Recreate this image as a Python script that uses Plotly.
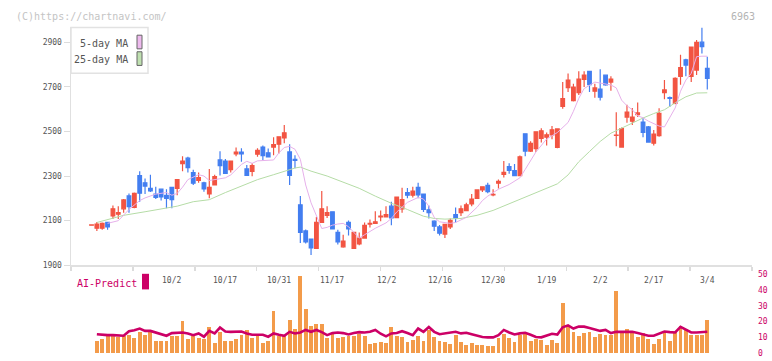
import plotly.graph_objects as go

# ---------------- data ----------------
sep_days = [9, 10, 11, 12, 16, 17, 18, 19, 22, 24, 25, 26, 29, 30]
oct_days = [1, 2, 3, 6, 7, 8, 9, 10, 14, 15, 16, 17, 20, 21, 22, 23, 24, 27, 28, 29, 30, 31]
nov_days = [4, 5, 6, 7, 10, 11, 12, 13, 14, 17, 18, 19, 20, 21, 25, 26, 27, 28]
dec_days = [1, 2, 3, 4, 5, 8, 9, 10, 11, 12, 15, 16, 17, 18, 19, 22, 23, 24, 25, 26, 29, 30]
jan_days = [5, 6, 7, 8, 9, 13, 14, 15, 16, 19, 20, 21, 22, 23, 26, 27, 28, 29, 30]
feb_days = [2, 3, 4, 5, 6, 9, 10, 12, 13, 16, 17, 18, 19, 20, 24, 25, 26, 27]
mar_days = [2, 3, 4]

dates = ([f"2025-09-{d:02d}" for d in sep_days] + [f"2025-10-{d:02d}" for d in oct_days]
         + [f"2025-11-{d:02d}" for d in nov_days] + [f"2025-12-{d:02d}" for d in dec_days]
         + [f"2026-01-{d:02d}" for d in jan_days] + [f"2026-02-{d:02d}" for d in feb_days]
         + [f"2026-03-{d:02d}" for d in mar_days])

label_dates = ["2025-10-02", "2025-10-17", "2025-10-31", "2025-11-17", "2025-12-02",
               "2025-12-16", "2025-12-30", "2026-01-19", "2026-02-02", "2026-02-17", "2026-03-04"]

open_ = [2080, 2066, 2066, 2092, 2121, 2129, 2153, 2211, 2160, 2302,
         2270, 2245, 2219, 2241, 2213, 2249, 2245, 2356, 2380, 2315,
         2281, 2270, 2220, 2260, 2372, 2367, 2329, 2399, 2407, 2332,
         2321, 2398, 2430, 2404, 2430, 2443, 2471, 2408, 2375, 2171,
         2054, 2018, 1976, 2092, 2124, 2140, 2048, 1983, 2092, 1976,
         1996, 2022, 2085, 2088, 2117, 2117, 2165, 2114, 2153, 2226,
         2214, 2249, 2219, 2149, 2098, 2072, 2040, 2072, 2127, 2136,
         2145, 2175, 2200, 2238, 2258, 2215, 2268, 2307, 2342, 2324,
         2302, 2489, 2412, 2423, 2469, 2474, 2484, 2428, 2612, 2696,
         2638, 2674, 2733, 2769, 2680, 2690, 2752, 2721, 2482, 2430,
         2564, 2546, 2575, 2542, 2520, 2447, 2481, 2674, 2652, 2626,
         2747, 2821, 2747, 2775, 2900, 2782]
high = [2084, 2094, 2092, 2095, 2168, 2165, 2197, 2222, 2226, 2321,
        2289, 2306, 2252, 2241, 2241, 2249, 2284, 2389, 2386, 2328,
        2316, 2274, 2332, 2306, 2411, 2376, 2367, 2428, 2425, 2350,
        2357, 2425, 2437, 2423, 2474, 2476, 2529, 2443, 2393, 2211,
        2060, 2018, 2117, 2233, 2165, 2140, 2059, 2037, 2101, 2048,
        2047, 2092, 2105, 2142, 2146, 2165, 2185, 2206, 2248, 2246,
        2252, 2270, 2219, 2168, 2102, 2081, 2083, 2110, 2159, 2168,
        2180, 2219, 2238, 2252, 2270, 2241, 2284, 2367, 2357, 2354,
        2392, 2489, 2456, 2498, 2514, 2495, 2524, 2514, 2721, 2760,
        2714, 2769, 2769, 2769, 2714, 2778, 2752, 2747, 2586, 2517,
        2619, 2605, 2629, 2561, 2524, 2506, 2604, 2730, 2656, 2743,
        2843, 2826, 2878, 2909, 2966, 2834]
low = [2077, 2054, 2059, 2059, 2107, 2107, 2136, 2136, 2156, 2185,
       2219, 2229, 2197, 2190, 2156, 2156, 2214, 2321, 2316, 2260,
       2270, 2230, 2201, 2260, 2302, 2312, 2316, 2389, 2364, 2303,
       2299, 2386, 2372, 2386, 2393, 2401, 2447, 2260, 2335, 2000,
       1998, 1946, 1976, 2092, 2112, 2060, 1993, 1979, 2034, 1976,
       1990, 2019, 2069, 2088, 2098, 2114, 2080, 2114, 2136, 2200,
       2204, 2200, 2139, 2110, 2054, 2034, 2022, 2063, 2092, 2121,
       2142, 2165, 2197, 2229, 2223, 2209, 2244, 2293, 2310, 2299,
       2299, 2389, 2408, 2408, 2450, 2437, 2465, 2425, 2602, 2677,
       2634, 2663, 2699, 2677, 2651, 2638, 2704, 2682, 2433, 2430,
       2539, 2529, 2564, 2474, 2452, 2437, 2476, 2644, 2609, 2622,
       2709, 2747, 2721, 2753, 2849, 2688]
close = [2081, 2085, 2088, 2072, 2153, 2136, 2193, 2163, 2223, 2223,
         2255, 2233, 2204, 2207, 2200, 2194, 2284, 2367, 2338, 2268,
         2293, 2242, 2249, 2297, 2347, 2312, 2367, 2407, 2399, 2303,
         2347, 2415, 2391, 2386, 2441, 2476, 2494, 2303, 2370, 2048,
         2005, 1978, 2092, 2153, 2136, 2063, 2005, 2008, 2063, 2048,
         2022, 2079, 2088, 2095, 2121, 2127, 2113, 2206, 2194, 2214,
         2232, 2216, 2150, 2136, 2075, 2044, 2083, 2102, 2112, 2153,
         2171, 2197, 2238, 2252, 2230, 2218, 2276, 2316, 2325, 2302,
         2386, 2412, 2447, 2498, 2503, 2485, 2507, 2511, 2647, 2730,
         2699, 2734, 2752, 2709, 2695, 2653, 2708, 2734, 2484, 2513,
         2586, 2564, 2583, 2495, 2452, 2488, 2581, 2686, 2648, 2738,
         2786, 2797, 2878, 2899, 2880, 2738]

# moving averages (trading-day number, value)
ma5_day = [3, 5, 6, 7, 9, 10, 12, 14, 15, 16, 17, 18, 20, 21, 22, 23, 25, 26, 28, 29,
           30, 31, 34, 35, 36, 37, 38, 39, 40, 41, 42, 43, 44, 45, 46, 47, 48, 50, 51, 53,
           55, 56, 57, 59, 61, 62, 63, 64, 65, 66, 67, 68, 70, 72, 73, 74, 76, 78, 80, 81,
           83, 85, 87, 89, 90, 91, 92, 94, 95, 97, 98, 99, 100, 101, 102, 103, 104, 106, 107, 108,
           109, 110, 111, 112, 113, 114, 115]
ma5_value = [2088, 2100, 2125, 2150, 2190, 2202, 2219, 2226, 2214, 2222, 2250, 2284, 2306, 2300, 2280, 2283, 2292, 2305, 2352, 2366,
             2357, 2368, 2372, 2404, 2428, 2433, 2420, 2375, 2260, 2180, 2120, 2065, 2070, 2080, 2085, 2088, 2073, 2022, 2037, 2066,
             2090, 2110, 2139, 2182, 2204, 2197, 2165, 2115, 2095, 2092, 2088, 2092, 2115, 2160, 2190, 2210, 2241, 2262, 2292, 2330,
             2408, 2466, 2495, 2540, 2590, 2648, 2692, 2721, 2716, 2708, 2695, 2640, 2615, 2597, 2570, 2561, 2546, 2524, 2520, 2561,
             2605, 2680, 2730, 2760, 2835, 2837, 2837]

ma25_day = [1, 3, 6, 10, 13, 16, 19, 22, 25, 28, 31, 34, 36, 38, 39, 41, 44, 47, 50, 53,
            56, 59, 62, 64, 66, 69, 72, 75, 78, 81, 84, 87, 89, 91, 93, 95, 97, 99, 101, 103,
            105, 107, 109, 111, 113, 114, 115]
ma25_value = [2092, 2105, 2124, 2140, 2153, 2165, 2185, 2194, 2226, 2255, 2284, 2306, 2322, 2336, 2340, 2322, 2300, 2272, 2245, 2210,
              2178, 2150, 2120, 2110, 2107, 2110, 2124, 2146, 2175, 2204, 2233, 2265, 2305, 2364, 2410, 2455, 2492, 2515, 2539, 2560,
              2580, 2597, 2628, 2655, 2672, 2673, 2673]

volume = [None, 7.9, 9.1, 10.6, 11.0, 10.2, 10.6, 11.8, 9.8, 13.5,
          11.6, 13.1, 7.9, 7.9, 7.9, 11.0, 11.0, 20.3, 9.1, 11.0,
          9.8, 9.1, 16.6, 6.7, 13.5, 7.9, 7.9, 9.1, 11.6, 14.7,
          9.8, 11.0, 6.7, 7.9, 26.6, 11.0, 11.6, 21.0, 15.6, 48.9,
          28.0, 17.2, 18.5, 18.5, 9.8, 12.9, 9.8, 10.4, 11.0, 11.0,
          12.3, 11.0, 6.0, 6.7, 7.3, 6.7, 16.6, 11.0, 10.4, 7.3,
          8.5, 11.0, 7.9, 14.7, 10.4, 7.9, 7.3, 5.8, 11.6, 7.3,
          5.4, 6.4, 5.4, 5.4, 4.4, 4.8, 9.3, 12.3, 9.8, 7.3,
          11.6, 13.5, 7.9, 9.1, 8.5, 5.4, 8.5, 6.7, 31.5, 16.6,
          13.5, 11.0, 12.9, 13.5, 10.4, 12.3, 11.6, 11.6, 39.6, 13.5,
          15.4, 13.5, 10.4, 12.9, 9.1, 5.8, 9.1, 12.9, 7.9, 13.7,
          17.2, 15.6, 11.6, 11.6, 11.6, 21.0]

ai_predict = [None, 12.0, 11.6, 11.4, 11.4, 11.0, 11.0, 13.9, 14.5, 15.6,
              14.1, 14.1, 13.1, 12.0, 11.0, 12.7, 13.1, 13.1, 12.5, 11.4,
              12.5, 10.4, 14.1, 12.5, 16.2, 13.7, 13.5, 13.5, 13.7, 12.5,
              11.6, 11.6, 11.6, 10.4, 12.5, 11.6, 11.0, 13.5, 12.5, 13.1,
              14.7, 13.5, 14.7, 13.3, 11.4, 12.7, 13.1, 12.7, 11.8, 12.7,
              13.3, 13.1, 13.5, 14.7, 12.3, 10.6, 12.5, 12.7, 13.9, 12.7,
              11.4, 15.6, 13.5, 16.6, 13.5, 12.0, 12.5, 12.9, 13.5, 12.5,
              12.9, 12.0, 11.0, 10.2, 10.0, 10.0, 11.4, 14.7, 13.1, 11.8,
              12.5, 12.9, 11.6, 10.2, 10.0, 11.2, 12.3, 11.8, 16.4, 17.6,
              15.6, 16.8, 16.8, 16.0, 14.9, 14.1, 14.7, 12.7, 13.5, 13.5,
              13.5, 13.5, 12.7, 11.6, 11.0, 11.0, 12.3, 13.7, 13.3, 13.1,
              16.6, 14.7, 13.1, 13.1, 13.1, 13.5]

price_ticks = [1900, 2100, 2300, 2500, 2700, 2900]
ai_ticks = [0, 10, 20, 30, 40, 50]

# ---------------- figure ----------------
W, H = 772, 361
MONO = "DejaVu Sans Mono"
RED = "#f25442"
BLUE = "#437ef0"
MAGENTA = "#cc0066"
ORANGE = "#f39b4a"

day = list(range(len(dates)))
X0, X1 = -3.83, 123.35


def px(x):
    return x / W


def py(y):
    return 1 - y / H


fig = go.Figure()

fig.add_trace(go.Scatter(x=ma25_day, y=ma25_value, mode="lines",
                         line=dict(color="#b5dca6", width=1), hoverinfo="skip",
                         showlegend=False, xaxis="x", yaxis="y"))
fig.add_trace(go.Scatter(x=ma5_day, y=ma5_value, mode="lines",
                         line=dict(color="#e6b0ea", width=1), hoverinfo="skip",
                         showlegend=False, xaxis="x", yaxis="y"))
fig.add_trace(go.Candlestick(
    x=day, open=open_, high=high, low=low, close=close,
    increasing=dict(line=dict(color=RED, width=1.2), fillcolor=RED),
    decreasing=dict(line=dict(color=BLUE, width=1.2), fillcolor=BLUE),
    whiskerwidth=0, hoverinfo="skip", showlegend=False, xaxis="x", yaxis="y"))

fig.add_trace(go.Bar(x=day, y=volume, marker=dict(color=ORANGE, line=dict(width=0)),
                     width=0.72, hoverinfo="skip", showlegend=False,
                     xaxis="x2", yaxis="y2"))
fig.add_trace(go.Scatter(x=day, y=ai_predict, mode="lines",
                         line=dict(color=MAGENTA, width=2.6), hoverinfo="skip",
                         showlegend=False, xaxis="x2", yaxis="y3"))

annotations = [
    dict(text="(C)https://chartnavi.com/", x=px(14), y=py(12.5), xref="paper", yref="paper",
         xanchor="left", yanchor="middle", showarrow=False,
         font=dict(family=MONO, size=10, color="#c4c4c4")),
    dict(text="6963", x=px(757), y=py(12.5), xref="paper", yref="paper",
         xanchor="right", yanchor="middle", showarrow=False,
         font=dict(family=MONO, size=10, color="#b4b4b4")),
    dict(text="5-day MA", x=px(130), y=py(40), xref="paper", yref="paper",
         xanchor="right", yanchor="middle", showarrow=False,
         font=dict(family=MONO, size=10, color="#555555")),
    dict(text="25-day MA", x=px(130), y=py(57), xref="paper", yref="paper",
         xanchor="right", yanchor="middle", showarrow=False,
         font=dict(family=MONO, size=10, color="#555555")),
    dict(text="AI-Predict", x=px(75), y=py(287), xref="paper", yref="paper",
         xanchor="left", yanchor="middle", showarrow=False,
         font=dict(family=MONO, size=10, color=MAGENTA)),
]
for d in label_dates:
    m, dd = int(d[5:7]), int(d[8:10])
    annotations.append(dict(text=f"{m}/{dd}", x=dates.index(d), y=py(283.5), xref="x", yref="paper",
                            xanchor="center", yanchor="middle", showarrow=False,
                            font=dict(family=MONO, size=8, color="#555555")))

shapes = [
    dict(type="rect", xref="paper", yref="paper", x0=px(71), x1=px(148), y0=py(71), y1=py(24),
         line=dict(color="#e2e2e2", width=1.5), fillcolor="white", layer="above"),
    dict(type="rect", xref="paper", yref="paper", x0=px(137), x1=px(142), y0=py(46), y1=py(32),
         line=dict(color="#666666", width=1), fillcolor="#eebaee", layer="above"),
    dict(type="rect", xref="paper", yref="paper", x0=px(137), x1=px(142), y0=py(63), y1=py(49),
         line=dict(color="#666666", width=1), fillcolor="#bfe0b0", layer="above"),
    dict(type="rect", xref="paper", yref="paper", x0=px(142), x1=px(149), y0=py(292.7), y1=py(276.7),
         line=dict(width=0), fillcolor=MAGENTA, layer="above"),
]

fig.update_layout(
    width=W, height=H, autosize=False,
    margin=dict(l=0, r=0, t=0, b=0),
    paper_bgcolor="white", plot_bgcolor="white",
    boxgap=0.2, boxgroupgap=0.15,
    bargap=0,
    xaxis=dict(domain=[px(71), px(752)], range=[X0, X1], anchor="y",
               showline=True, linecolor="#e0e0e0", linewidth=1.5,
               ticks="outside", ticklen=4, tickcolor="#dcdcdc", tickwidth=1.5,
               tickmode="linear", tick0=X0, dtick=(X1 - X0) / 11,
               showticklabels=False, showgrid=False, zeroline=False,
               rangeslider=dict(visible=False), fixedrange=True),
    yaxis=dict(domain=[py(268), py(24)], range=[1900, 2966], anchor="x",
               showline=True, linecolor="#e0e0e0", linewidth=1.5,
               tickmode="array", tickvals=price_ticks,
               ticks="outside", ticklen=6, tickcolor="#dcdcdc", tickwidth=1,
               tickfont=dict(family=MONO, size=8, color="#555555"),
               showgrid=False, zeroline=False, fixedrange=True),
    xaxis2=dict(domain=[px(71), px(752)], range=[X0, X1], anchor="y2",
                visible=False, fixedrange=True),
    yaxis2=dict(domain=[py(358), py(277.3)], range=[0, 50], anchor="x2",
                visible=False, fixedrange=True),
    yaxis3=dict(overlaying="y2", anchor="x2", side="right", range=[0, 50],
                tickmode="array", tickvals=ai_ticks, ticks="",
                ticklabelstandoff=5,
                tickfont=dict(family=MONO, size=8, color=MAGENTA),
                showline=False, showgrid=False, zeroline=False, fixedrange=True),
    annotations=annotations,
    shapes=shapes,
)

fig.write_html("out.html", config=dict(displayModeBar=False, staticPlot=True),
               post_script="document.body.style.margin='0';document.body.style.overflow='hidden';")
